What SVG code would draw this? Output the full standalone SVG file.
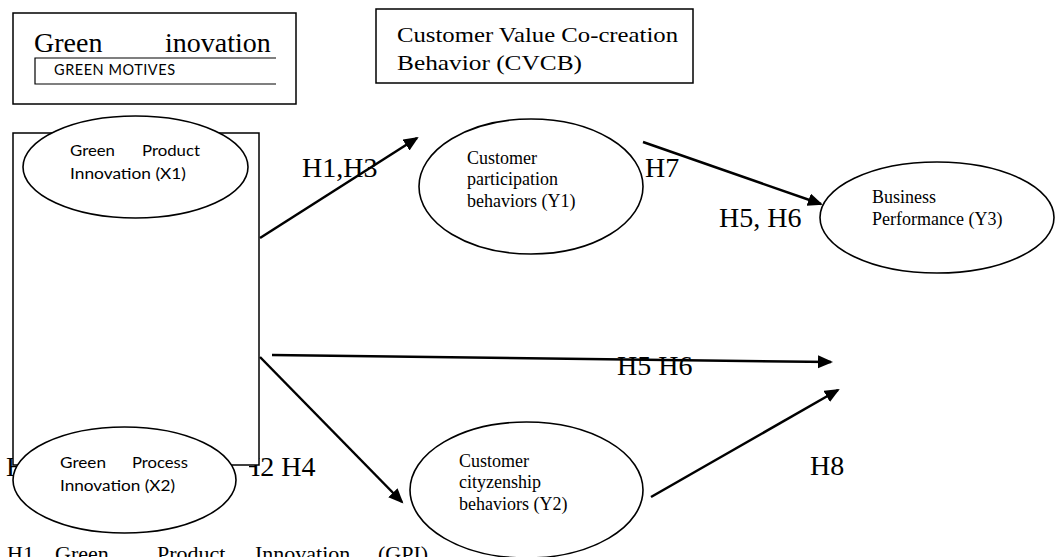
<svg xmlns="http://www.w3.org/2000/svg" width="1056" height="557" viewBox="0 0 1056 557">
<style>
.big{font-family:"Liberation Serif","Times New Roman",serif;font-size:28px;fill:#000}
.mid{font-family:"Liberation Serif","Times New Roman",serif;font-size:22px;fill:#000}
.sm{font-family:"Liberation Serif","Times New Roman",serif;font-size:18px;fill:#000}
.cal{font-family:Lato,"Open Sans",sans-serif;font-size:14.5px;fill:#000}
.box{fill:#fff;stroke:#000;stroke-width:1.5}
.ell{fill:#fff;stroke:#000;stroke-width:1.6}
.con{fill:none;stroke:#000;stroke-width:2.5}
</style>
<defs>
<marker id="ah" markerUnits="userSpaceOnUse" markerWidth="16" markerHeight="14" refX="13" refY="6.5" orient="auto">
<path d="M0,0 L15,6.5 L0,13 z" fill="#000"/>
</marker>
<clipPath id="clipH2"><rect x="249" y="440" width="120" height="50"/></clipPath>
</defs>
<rect width="1056" height="557" fill="#fff"/>

<g id="hidden-labels">
<text class="big" x="6" y="476">H1</text>
<text class="big" x="240" y="476" clip-path="url(#clipH2)">H2 H4</text>
</g>

<g id="n-green-inovation">
<rect class="box" x="13" y="13" width="283" height="91"/>
<text class="big" y="52"><tspan x="34">Green</tspan><tspan x="165">inovation</tspan></text>
<path d="M276,58 H35 V84 H276" fill="none" stroke="#000" stroke-width="1.2"/>
<text class="cal" x="54" y="75" font-size="11" textLength="121" lengthAdjust="spacing">GREEN MOTIVES</text>
</g>

<g id="n-cvcb">
<rect class="box" x="376" y="9" width="317" height="74"/>
<text class="mid" x="397" y="42" textLength="281" lengthAdjust="spacingAndGlyphs">Customer  Value  Co-creation</text>
<text class="mid" x="397" y="70" textLength="185" lengthAdjust="spacingAndGlyphs">Behavior  (CVCB)</text>
</g>

<g id="n-gi-frame">
<rect class="box" x="13" y="133" width="246" height="332"/>
</g>

<g id="n-gpi">
<ellipse class="ell" cx="135.5" cy="167" rx="112.5" ry="51"/>
<text class="cal" x="70" y="156" textLength="45" lengthAdjust="spacingAndGlyphs">Green</text>
<text class="cal" x="142" y="156" textLength="58" lengthAdjust="spacingAndGlyphs">Product</text>
<text class="cal" x="70" y="179" textLength="116" lengthAdjust="spacingAndGlyphs">Innovation (X1)</text>
</g>

<g id="n-gpc">
<ellipse class="ell" cx="124.5" cy="480" rx="111.5" ry="53"/>
<text class="cal" x="60" y="468" textLength="46" lengthAdjust="spacingAndGlyphs">Green</text>
<text class="cal" x="132" y="468" textLength="56" lengthAdjust="spacingAndGlyphs">Process</text>
<text class="cal" x="60" y="491" textLength="115" lengthAdjust="spacingAndGlyphs">Innovation (X2)</text>
</g>

<g id="n-y1">
<ellipse class="ell" cx="531" cy="186.5" rx="112" ry="67.5"/>
<text class="sm" x="467" y="164">Customer</text>
<text class="sm" x="467" y="185">participation</text>
<text class="sm" x="467" y="207">behaviors (Y1)</text>
</g>

<g id="n-y2">
<ellipse class="ell" cx="526.5" cy="490" rx="116.5" ry="68"/>
<text class="sm" x="459" y="467">Customer</text>
<text class="sm" x="459" y="488">cityzenship</text>
<text class="sm" x="459" y="510">behaviors (Y2)</text>
</g>

<g id="n-y3">
<ellipse class="ell" cx="937" cy="217.5" rx="117" ry="55.5"/>
<text class="sm" x="872" y="203">Business</text>
<text class="sm" x="872" y="225">Performance (Y3)</text>
</g>

<g id="connectors">
<line class="con" x1="260" y1="238" x2="417" y2="138" marker-end="url(#ah)"/>
<line class="con" x1="643" y1="142" x2="821" y2="204" marker-end="url(#ah)"/>
<line class="con" x1="272" y1="355" x2="831" y2="362" marker-end="url(#ah)"/>
<line class="con" x1="260" y1="357" x2="402" y2="502" marker-end="url(#ah)"/>
<line class="con" x1="651" y1="497" x2="838" y2="390" marker-end="url(#ah)"/>
</g>

<g id="labels">
<text class="big" x="302" y="177">H1,H3</text>
<text class="big" x="645" y="177">H7</text>
<text class="big" x="719" y="227">H5, H6</text>
<text class="big" x="617" y="375">H5 H6</text>
<text class="big" x="810" y="475">H8</text>
<text class="mid" y="561" font-size="25"><tspan x="7">H1</tspan><tspan x="55">Green</tspan><tspan x="157">Product</tspan><tspan x="255">Innovation</tspan><tspan x="378">(GPI)</tspan></text>
</g>
</svg>
